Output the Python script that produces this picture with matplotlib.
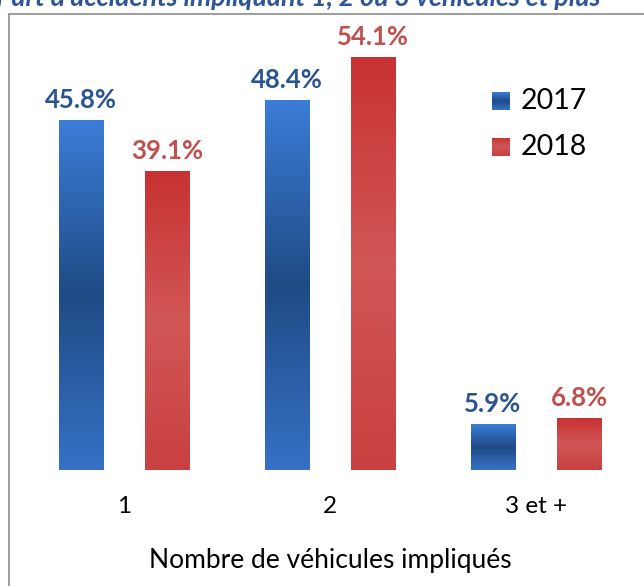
import numpy as np
import matplotlib
matplotlib.use("Agg")
from matplotlib import pyplot as plt
from matplotlib.colors import LinearSegmentedColormap
from matplotlib.patches import Rectangle

categories = ["1", "2", "3 et +"]
years = ["2017", "2018"]
values_2017 = [45.8, 48.4, 5.9]
values_2018 = [39.1, 54.1, 6.8]
title = "Part d'accidents impliquant 1, 2 ou 3 véhicules et plus"
xlabel = "Nombre de véhicules impliqués"

plt.rcParams['font.family'] = ['Lato', 'DejaVu Sans']

blue_cmap = LinearSegmentedColormap.from_list('b', ['#3b7dd8', '#1f4b85', '#3671c6'])
red_cmap = LinearSegmentedColormap.from_list('r', ['#c83232', '#d15656', '#c94040'])
label_colors = ['#2a5592', '#c0504d']


def gradient_bar(ax, x, h, w, cmap):
    grad = np.linspace(0, 1, 256).reshape(-1, 1)
    ax.imshow(grad, cmap=cmap, aspect='auto', extent=[x - w / 2, x + w / 2, 0, h],
              origin='upper', zorder=2)


fig = plt.figure(figsize=(6.44, 5.86), dpi=100)
W, H = 644, 586

# outer chart border
fig.patches.append(Rectangle((9 / W, -0.05), 1.1, (H - 14) / H + 0.05, transform=fig.transFigure,
                             fill=False, edgecolor='#8c8c8c', linewidth=1.2))
# title is cropped at the top of the original picture
fig.text(-4 / W, 1.0 - 6 / H, title, color='#2f5597', fontsize=19.3, fontweight='bold',
         fontstyle='italic', ha='left', va='baseline')

ax = fig.add_axes([20 / W, (H - 470) / H, 620 / W, (470 - 13) / H])
ax.set_xlim(-0.505, 2.505)
ax.set_ylim(0, 59.9)
ax.axis('off')

w = 0.214
off = 0.21
xs = np.arange(len(categories))
for series, vals, cmap, lc in zip(years, [values_2017, values_2018], [blue_cmap, red_cmap], label_colors):
    sign = -1 if series == years[0] else 1
    for x, v in zip(xs, vals):
        gradient_bar(ax, x + sign * off, v, w, cmap)
        ax.text(x + sign * off, v + 2.7, f"{v}%", ha='center', va='center',
                color=lc, fontsize=18.5, fontweight='bold')

for x, c in zip(xs, categories):
    ax.text(x, -4.8, c, ha='center', va='center', fontsize=17.5, color='black', clip_on=False)
ax.text(1.0, -11.8, xlabel, ha='center', va='center', fontsize=19, color='black', clip_on=False)

# legend
for i, (yr, cmap) in enumerate(zip(years, [blue_cmap, red_cmap])):
    ly = 101 + 46 * i
    grad = np.linspace(0, 1, 64).reshape(-1, 1)
    lax = fig.add_axes([492 / W, (H - ly - 9) / H, 18 / W, 18 / H])
    lax.imshow(grad, cmap=cmap, aspect='auto')
    lax.axis('off')
    fig.text(521 / W, (H - ly) / H, yr, fontsize=20.5, color='black', va='center', ha='left')

fig.savefig('out.png', dpi=100)
